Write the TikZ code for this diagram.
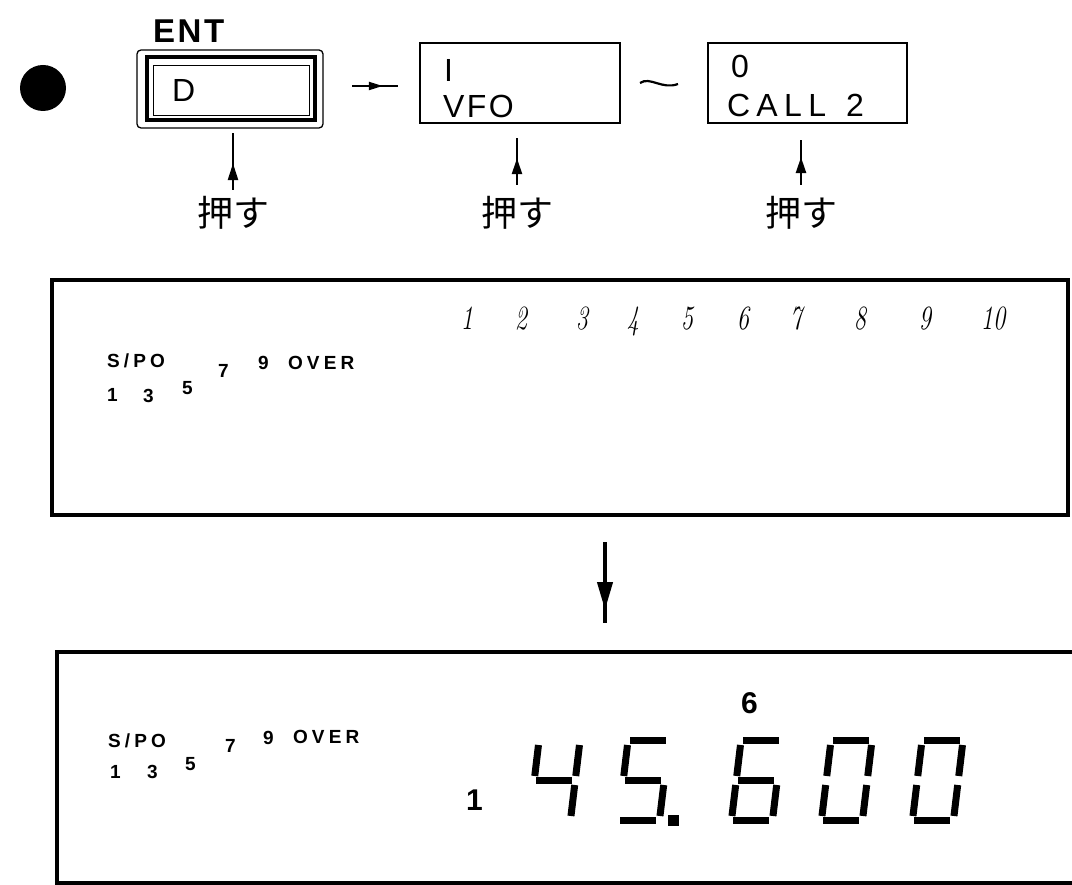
\documentclass[tikz,border=0pt]{standalone}
\usepackage{fontspec}
\setsansfont{Liberation Sans}
\newfontfamily\jpfont{Noto Sans CJK JP}
\newfontfamily\boxfont{Liberation Sans}[LetterSpace=8]
\newfontfamily\lcdfont{Liberation Sans}[LetterSpace=22]
\usetikzlibrary{arrows.meta,decorations.markings}
\newcommand\myfs[1]{\fontsize{#1}{#1}\selectfont}
\tikzset{
  segline/.style={line width=7pt, line cap=butt},
  seg a/.pic={\draw[segline] (3,-83.5) -- (39,-83.5);},
  seg b/.pic={\draw[segline] (42,-79) -- (42,-48);},
  seg c/.pic={\draw[segline] (42,-39) -- (42,-8);},
  seg d/.pic={\draw[segline] (3,-3.5) -- (39,-3.5);},
  seg e/.pic={\draw[segline] (1,-39) -- (1,-8);},
  seg f/.pic={\draw[segline] (1,-79) -- (1,-48);},
  seg g/.pic={\draw[segline] (3,-43.5) -- (39,-43.5);},
  midarrow/.style n args={3}{postaction={decorate},
    decoration={markings, mark=at position #1 with {\arrow{Triangle[length=#2, width=#3]}}}},
  lbl/.style={anchor=base west, inner sep=0, outer sep=0},
  lcd/.style={lbl, font=\lcdfont\bfseries\myfs{19}},
  scl/.style={anchor=base, inner sep=0, font=\rmfamily\itshape\myfs{34}},
  push/.style={anchor=base, inner sep=0, outer sep=0, font=\jpfont\myfs{36}, text height=33pt, text depth=3pt},
  panel/.style={draw, line width=4pt, inner sep=0, outer sep=0},
  lcdbox/.style={draw, line width=2.2pt, inner sep=0, outer sep=0},
}
\newcommand\sevenseg[2]{%
  \begin{scope}[shift={(#1,824)}, xslant=0.12]
    \foreach \s in {#2} {\pic[transform shape] {seg \s};}
  \end{scope}}
\begin{document}
\begin{tikzpicture}[x=1pt,y=-1pt]
\useasboundingbox (0,0) rectangle (1072,885);

% bullet
\node[circle, fill, minimum size=46pt, inner sep=0] (dot) at (43,88) {};

% ENT key
\node[draw, rounded corners=4pt, line width=1.3pt, minimum width=186pt, minimum height=78pt, inner sep=0, outer sep=0] (ent) at (230,89) {};
\node[draw, line width=4pt, minimum width=168pt, minimum height=63pt, inner sep=0] (entin) at (230.5,89) {};
\node[draw, line width=1.4pt, minimum width=156pt, minimum height=50pt, inner sep=0] (entcap) at (231.5,90.5) {};
\node[lbl, font=\boxfont\bfseries\myfs{33}] (entlbl) at (153,43) {ENT};
\node[lbl, font=\sffamily\myfs{32}] (dkey) at (172,102) {D};

% VFO display
\node[lcdbox, minimum width=200pt, minimum height=80pt] (vfo) at (520,83) {};
\node[lbl, font=\boxfont\myfs{32}] (vfoI) at (444,82) {I};
\node[lbl, font=\boxfont\myfs{32}] (vfoT) at (443,118) {VFO};

% CALL display
\node[lcdbox, minimum width=199pt, minimum height=80pt] (call) at (807.5,83) {};
\node[lbl, font=\boxfont\myfs{32}] (call0) at (731,78) {0};
\node[lbl, font=\boxfont\myfs{32}] (callT) at (727,117) {\addfontfeatures{LetterSpace=20}CALL\hspace{20pt}2};

% arrow and tilde
\draw[line width=2pt, midarrow={0.67}{14pt}{8pt}] ([xshift=29pt,yshift=3pt]ent.east) -- ([xshift=-22pt,yshift=-3pt]vfo.west);
\draw[line width=2.2pt] (640,83) .. controls (650,76) and (662,90) .. (678,84);

% push labels
\node[push] (p1) at (233,227) {押す};
\node[push] (p2) at (517,227) {押す};
\node[push] (p3) at (801,227) {押す};
\draw[line width=2.5pt, midarrow={0.47}{17pt}{10pt}] ([yshift=4pt]p1.north) -- ([yshift=-5pt]p1.north |- ent.south);
\draw[line width=2.5pt, midarrow={0.57}{16pt}{10pt}] ([yshift=9pt]p2.north) -- ([yshift=-15pt]p2.north |- vfo.south);
\draw[line width=2.5pt, midarrow={0.62}{16pt}{10pt}] ([yshift=9pt]p3.north) -- ([yshift=-17pt]p3.north |- call.south);

% display 1
\node[panel, minimum width=1016pt, minimum height=235pt] (d1) at (560,397.5) {};
\node[lcd] (d1sp) at (107,368) {S/PO};
\node[lcd] (d1s7) at (218,378) {7};
\node[lcd] (d1s9) at (258,370) {9};
\node[lcd] (d1ov) at (288,370) {OVER};
\node[lcd] (d1s1) at (107,402) {1};
\node[lcd] (d1s3) at (143,403) {3};
\node[lcd] (d1s5) at (182,395) {5};
\foreach \n/\cx in {1/467,2/521,3/582,4/633,5/687,6/743,7/796,8/860,9/925,10/993}
  \node[scl] (sc\n) at (\cx,330) {\scalebox{0.72}[1]{\n}};

% arrow between displays
\coordinate (dstart) at (605,542);
\node[panel, minimum width=1030pt, minimum height=231pt] (d2) at (572,767.5) {};
\draw[line width=4pt, midarrow={0.84}{28pt}{15pt}] (dstart) -- ([yshift=29pt]dstart |- d2.north);

% display 2
\node[lcd] (d2sp) at (108,747) {S/PO};
\node[lcd] (d2s7) at (225,752) {7};
\node[lcd] (d2s9) at (263,744) {9};
\node[lcd] (d2ov) at (293,743) {OVER};
\node[lcd] (d2s1) at (110,778) {1};
\node[lcd] (d2s3) at (147,778) {3};
\node[lcd] (d2s5) at (185,770) {5};
\node[lbl, font=\sffamily\bfseries\myfs{30}] (mem1) at (466,810) {1};
\node[lbl, font=\sffamily\bfseries\myfs{30}] (mem6) at (741,713) {6};

% seven segment frequency 45.600
\sevenseg{528}{b,c,f,g}
\sevenseg{617}{a,f,g,c,d}
\node[fill, minimum size=11pt, inner sep=0] (dp) at (673.5,820.5) {};
\sevenseg{730}{a,f,g,e,c,d}
\sevenseg{820}{a,b,c,d,e,f}
\sevenseg{911}{a,b,c,d,e,f}
\end{tikzpicture}
\end{document}
